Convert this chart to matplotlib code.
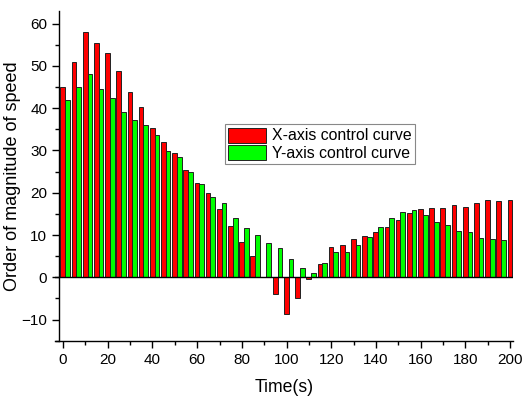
import matplotlib
matplotlib.use("Agg")
import matplotlib.pyplot as plt
from matplotlib.ticker import MultipleLocator

plt.rcParams['font.family'] = ['Liberation Sans', 'DejaVu Sans']

times = [0, 5, 10, 15, 20, 25, 30, 35, 40, 45, 50, 55, 60, 65, 70, 75, 80, 85, 90, 95,
         100, 105, 110, 115, 120, 125, 130, 135, 140, 145, 150, 155, 160, 165, 170, 175,
         180, 185, 190, 195, 200]
x_curve = [45.0, 51.0, 58.0, 55.5, 53.0, 48.9, 43.9, 40.3, 35.3, 32.1, 29.5, 25.5, 22.4,
           20.0, 16.2, 12.1, 8.4, 5.0, 0.1, -3.9, -8.6, -5.0, -0.5, 3.2, 7.2, 7.6, 9.1,
           9.8, 10.6, 11.8, 13.6, 15.1, 16.1, 16.5, 16.3, 17.0, 16.6, 17.6, 18.4, 18.1, 18.4]
y_curve = [42.0, 45.0, 48.0, 44.5, 42.3, 39.0, 37.3, 36.0, 33.6, 29.8, 28.5, 24.8, 22.0,
           18.9, 17.5, 14.1, 11.7, 9.9, 8.0, 6.9, 4.4, 2.1, 0.9, 3.5, 5.9, 6.1, 7.7,
           9.5, 12.0, 14.0, 15.5, 16.0, 14.8, 13.2, 12.3, 10.9, 10.6, 9.4, 9.1, 8.9, 7.2]
labels = ["X-axis control curve", "Y-axis control curve"]

fig = plt.figure(figsize=(5.26, 3.97), dpi=100)
ax = fig.add_axes([55/526, 56.3/397, (513-55)/526, (340.7-11)/397])

w = 2.1
ax.bar([t - 0.1 for t in times], x_curve, width=w, color='#ff0000',
       edgecolor='#222222', linewidth=0.7, label=labels[0], zorder=2)
ax.bar([t - 0.1 + w for t in times], y_curve, width=w, color='#00ff00',
       edgecolor='#222222', linewidth=0.7, label=labels[1], zorder=2)

ax.set_xlim(-3.6, 201.3)
ax.set_ylim(-15, 63)
ax.spines['top'].set_visible(False)
ax.spines['right'].set_visible(False)
ax.spines['left'].set_position(('data', -1.8))
for s in ('left', 'bottom'):
    ax.spines[s].set_linewidth(1.0)

ax.axhline(0, color='black', linewidth=1.0, zorder=3)

ax.xaxis.set_major_locator(MultipleLocator(20))
ax.xaxis.set_minor_locator(MultipleLocator(10))
ax.yaxis.set_major_locator(MultipleLocator(10))
ax.yaxis.set_minor_locator(MultipleLocator(5))
ax.tick_params(which='major', direction='out', length=5, width=1.0, labelsize=11)
ax.tick_params(which='minor', direction='out', length=3, width=1.0)

ax.set_xlabel("Time(s)", fontsize=12.7, labelpad=9)
ax.set_ylabel("Order of magnitude of speed", fontsize=13, labelpad=0.5)

leg = ax.legend(loc='upper left', bbox_to_anchor=(0.371, 0.656), borderaxespad=0,
                fontsize=11.4, handlelength=2.4, handleheight=1.08, labelspacing=0.12,
                borderpad=0.2, handletextpad=0.4, fancybox=False, framealpha=1,
                edgecolor='#888888')
leg.get_frame().set_linewidth(0.8)

fig.savefig("out.png", dpi=100)
